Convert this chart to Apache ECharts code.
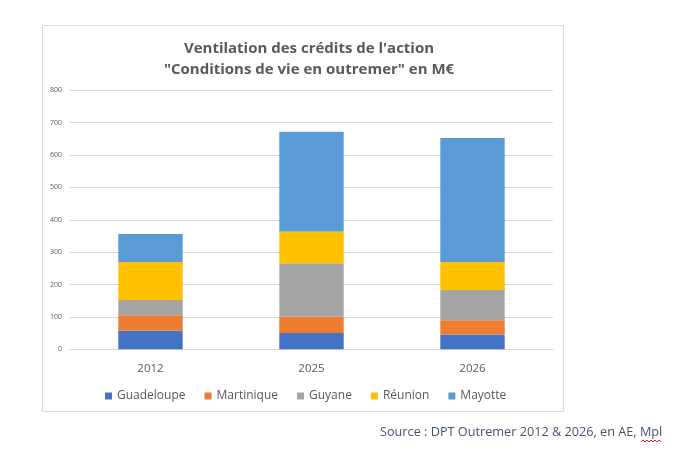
<!DOCTYPE html>
<html><head><meta charset="utf-8">
<script src="https://cdn.jsdelivr.net/npm/echarts@6/dist/echarts.min.js"></script>
<style>html,body{margin:0;padding:0;background:#fff}#c{width:684px;height:462px}</style>
</head><body><div id="c"></div>
<script>
const categories = ['2012', '2025', '2026'];
const guadeloupe = [57, 50, 46];
const martinique = [48, 51, 44];
const guyane = [47, 165, 93];
const reunion = [118, 98, 87];
const mayotte = [86, 308, 383];
const seriesNames = ['Guadeloupe', 'Martinique', 'Guyane', 'Réunion', 'Mayotte'];
const seriesColors = ['#4472C4', '#ED7D31', '#A5A5A5', '#FFC000', '#5B9BD5'];
const seriesData = [guadeloupe, martinique, guyane, reunion, mayotte];

const chart = echarts.init(document.getElementById('c'), null, {renderer: 'canvas'});
const font = 'Open Sans';
chart.setOption({
  animation: false,
  backgroundColor: '#fff',
  title: {
    text: 'Ventilation des crédits de l\'action\n"Conditions de vie en outremer" en M€',
    left: 304, top: 33, textAlign: 'center',
    textStyle: {fontFamily: font, fontSize: 15, fontWeight: 'bold', color: '#595959', lineHeight: 21}
  },
  legend: {
    data: seriesNames, top: 385, left: 100, itemWidth: 7, itemHeight: 7, itemGap: 19,
    icon: 'rect',
    textStyle: {fontFamily: font, fontSize: 12, color: '#595959'}
  },
  grid: {left: 70, right: 131, top: 90.3, bottom: 112.7, containLabel: false},
  xAxis: {
    type: 'category', data: categories,
    axisLine: {lineStyle: {color: '#D9D9D9'}}, axisTick: {show: false},
    axisLabel: {fontFamily: font, fontSize: 11.5, color: '#595959', margin: 13}
  },
  yAxis: {
    type: 'value', min: 0, max: 800, interval: 100,
    axisLine: {show: false}, axisTick: {show: false},
    splitLine: {lineStyle: {color: '#D9D9D9', width: 1}},
    axisLabel: {fontFamily: font, fontSize: 7, color: '#595959', margin: 8}
  },
  series: seriesData.map((d, i) => ({
    name: seriesNames[i], type: 'bar', stack: 'total', data: d, barWidth: '40%',
    itemStyle: {color: seriesColors[i]}
  })),
  graphic: [
    {type: 'rect', shape: {x: 42.5, y: 25.5, width: 521, height: 386}, style: {fill: 'none', stroke: '#D9D9D9', lineWidth: 1}, z: -1, silent: true},
    {type: 'text', left: 380, top: 426, style: {text: 'Source : DPT Outremer 2012 & 2026, en AE, Mpl', fontFamily: font, fontSize: 12.7, fill: '#44546A'}},
    {type: 'polyline', shape: {points: [[641,442],[643,440],[645,442],[647,440],[649,442],[651,440],[653,442],[655,440],[657,442],[659,440],[661,442]]}, style: {stroke: '#E02020', lineWidth: 1, fill: 'none'}, silent: true}
  ]
});
</script></body></html>
